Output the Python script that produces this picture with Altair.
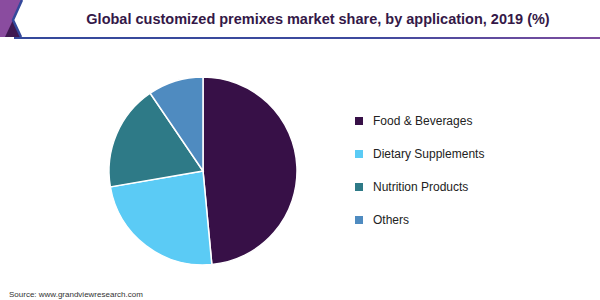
import altair as alt
import pandas as pd

categories = ["Food & Beverages", "Dietary Supplements", "Nutrition Products", "Others"]
shares = [48.5, 23.8, 18.2, 9.5]
colors = ["#371047", "#5BCBF5", "#2E7A87", "#4F8BC0"]

title_text = "Global customized premixes market share, by application, 2019 (%)"
source_text = "Source: www.grandviewresearch.com"

df = pd.DataFrame({"category": categories, "share": shares, "order": list(range(len(categories)))})

FONT = "Liberation Sans"

pie = alt.Chart(df).mark_arc(outerRadius=94, stroke="white", strokeWidth=1.5).encode(
    theta=alt.Theta("share:Q", stack=True),
    order=alt.Order("order:Q"),
    color=alt.Color(
        "category:N",
        sort=categories,
        scale=alt.Scale(domain=categories, range=colors),
        legend=alt.Legend(
            title=None,
            orient="none",
            legendX=353,
            legendY=115,
            symbolType="square",
            symbolSize=64,
            symbolStrokeWidth=0,
            labelFont=FONT,
            labelFontSize=12,
            labelColor="#222222",
            labelOffset=8,
            rowPadding=21,
        ),
    ),
    x=alt.value(203),
    y=alt.value(171),
)

base = alt.Chart(pd.DataFrame({"a": [0]}))

title = base.mark_text(
    text=title_text, font=FONT, fontSize=14.5, fontWeight="bold", color="#341847",
    align="center", baseline="middle"
).encode(x=alt.value(318), y=alt.value(20))

source = base.mark_text(
    text=source_text, font=FONT, fontSize=8, color="#333333",
    align="left", baseline="middle"
).encode(x=alt.value(9), y=alt.value(295))

line = base.mark_rect(
    color=alt.Gradient(
        gradient="linear",
        stops=[alt.GradientStop(color="#34499B", offset=0), alt.GradientStop(color="#3D4A9E", offset=0.6),
               alt.GradientStop(color="#7D4C9E", offset=1)],
        x1=0, x2=1, y1=0, y2=0,
    )
).encode(x=alt.value(14), x2=alt.value(600), y=alt.value(37), y2=alt.value(39))

def P(pts):
    return "M" + " L".join(f"{(x-12)/19:.3f},{(y-19)/19:.3f}" for x, y in pts) + " Z"

violet = base.mark_point(
    shape=P([(0, 0), (22, 0), (13, 20), (21, 37), (0, 37)]), size=38 * 38,
    filled=True, fill="#8A4C9F", opacity=1, strokeWidth=0
).encode(x=alt.value(12), y=alt.value(19))

dark = base.mark_point(
    shape=P([(13, 20), (21, 37), (5, 37)]), size=38 * 38,
    filled=True, fill="#3E1850", opacity=1, strokeWidth=0
).encode(x=alt.value(12), y=alt.value(19))

chev = base.mark_point(
    shape="M" + " L".join(f"{(x-12)/19:.3f},{(y-19)/19:.3f}" for x, y in [(22, 0), (13, 20), (21, 37)]),
    size=38 * 38, filled=False, stroke="#34499B", strokeWidth=2.5, opacity=1
).encode(x=alt.value(12), y=alt.value(19))

chart = alt.layer(violet, dark, chev, line, title, source, pie).properties(
    width=600, height=300, autosize=alt.AutoSizeParams(type="none"), padding=0,
    background="white"
).configure_view(stroke=None)

chart.save("out.html", embed_options={"renderer": "svg", "actions": False})
